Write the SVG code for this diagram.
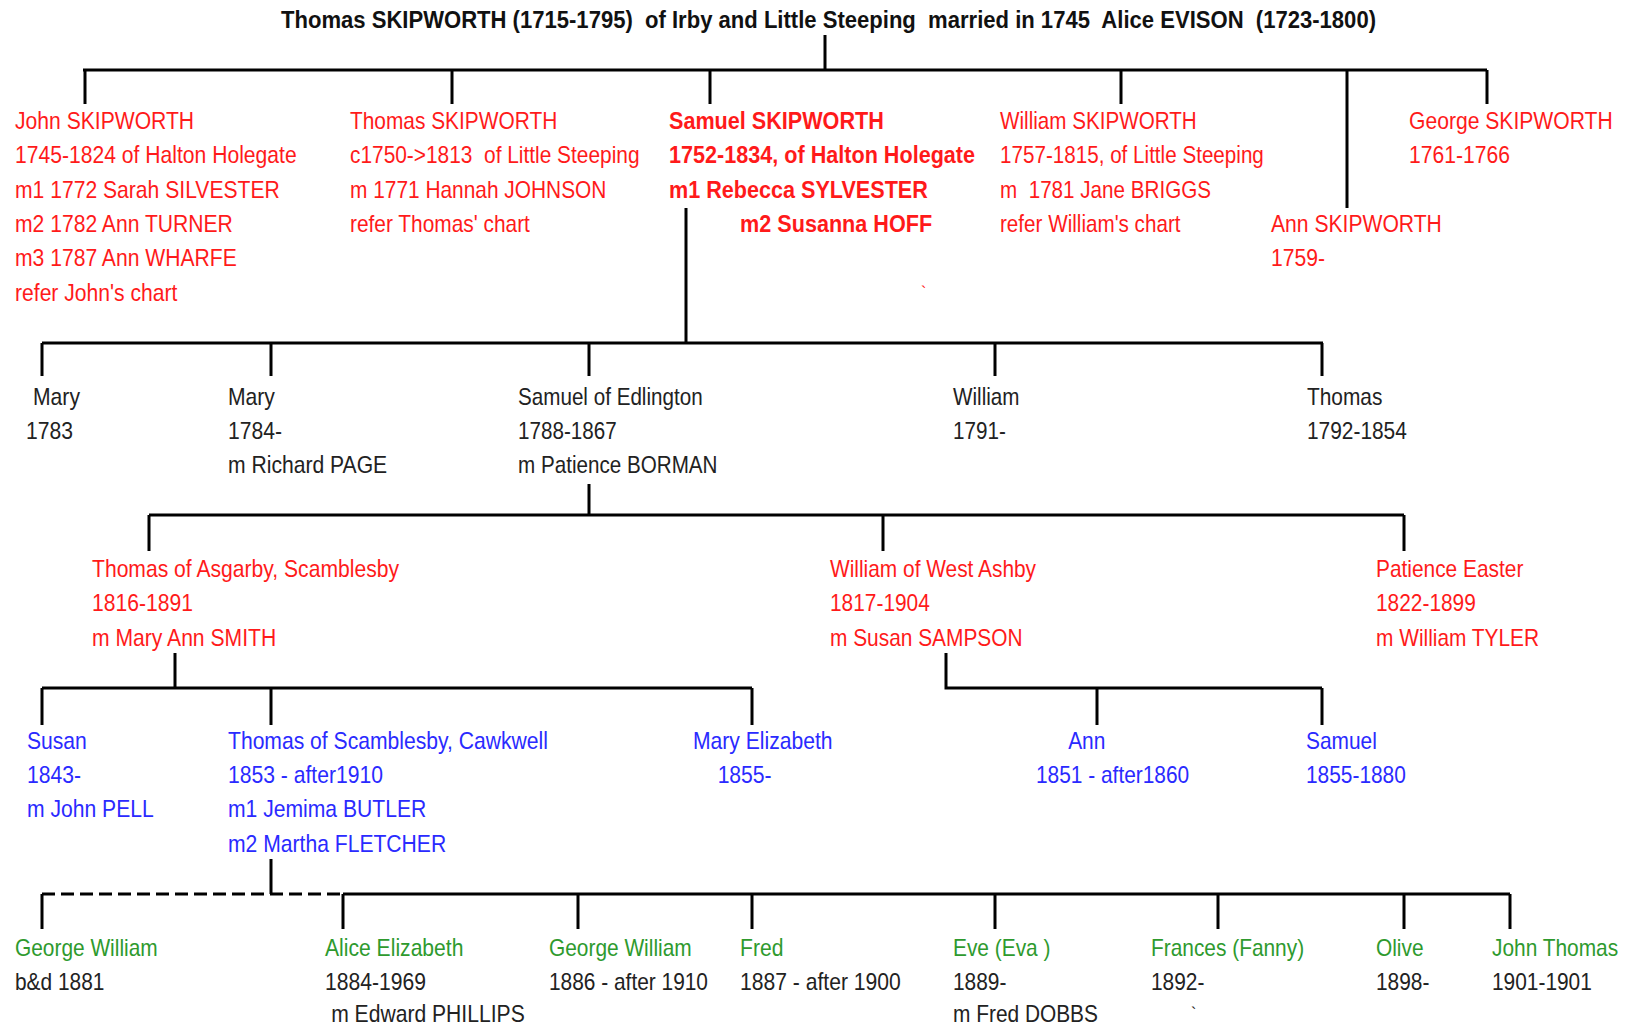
<svg xmlns="http://www.w3.org/2000/svg" width="1627" height="1026" viewBox="0 0 1627 1026">
<style>
text{font-family:"Liberation Sans",Arial,sans-serif;font-size:24px;white-space:pre}
.r{fill:#ff1a1a}.rb{fill:#ff1a1a;font-weight:bold}.k{fill:#222}.b{fill:#2a2aff}.g{fill:#2e9a2e}
.ln{stroke:#000;stroke-width:3;fill:none}
.ds{stroke:#000;stroke-width:3;fill:none;stroke-dasharray:13 6}
</style>
<rect width="1627" height="1026" fill="#fff"/>
<g id="title"><text xml:space="preserve" x="281" y="28" font-weight="bold" style="font-size:23px" fill="#111" textLength="1095" lengthAdjust="spacingAndGlyphs">Thomas SKIPWORTH (1715-1795)  of Irby and Little Steeping  married in 1745  Alice EVISON  (1723-1800)</text></g>
<g id="connectors">
<path class="ln" d="M825 35V70M83 70H1487M85 70V104M452 70V104M710 70V104M1121 70V104M1347 70V208M1487 70V104"/>
<path class="ln" d="M686 208V343M42 343H1323M42 343V376M271 343V376M589 343V376M995 343V376M1322 343V376"/>
<path class="ln" d="M589 484V515M149 515H1404M149 515V551M883 515V551M1404 515V551"/>
<path class="ln" d="M175 653V688M42 688H752M42 688V725M271 688V725M752 688V725"/>
<path class="ln" d="M946 653V688H1322M1097 688V725M1322 688V725"/>
<path class="ln" d="M271 859V894"/>
<path class="ds" d="M42 894H343"/>
<path class="ln" d="M42 894V929M343 894H1510M343 894V929M578 894V929M752 894V929M995 894V929M1218 894V929M1404 894V929M1510 894V929"/>
</g>
<g id="john" transform="translate(15 0) scale(.88 1)"><text class="r" y="129">John SKIPWORTH</text><text class="r" y="163">1745-1824 of Halton Holegate</text><text class="r" y="198">m1 1772 Sarah SILVESTER</text><text class="r" y="232">m2 1782 Ann TURNER</text><text class="r" y="266">m3 1787 Ann WHARFE</text><text class="r" y="301">refer John's chart</text></g>
<g id="thomas1" transform="translate(350 0) scale(.87 1)"><text class="r" y="129">Thomas SKIPWORTH</text><text xml:space="preserve" class="r" y="163">c1750-&gt;1813  of Little Steeping</text><text class="r" y="198">m 1771 Hannah JOHNSON</text><text class="r" y="232">refer Thomas' chart</text></g>
<g id="samuel1" transform="translate(669 0) scale(.9 1)"><text class="rb" y="129">Samuel SKIPWORTH</text><text class="rb" y="163">1752-1834, of Halton Holegate</text><text class="rb" y="198">m1 Rebecca SYLVESTER</text><text class="rb" x="79" y="232">m2 Susanna HOFF</text></g>
<text class="r" x="921" y="298" style="font-size:16px">`</text>
<g id="william1" transform="translate(1000 0) scale(.86 1)"><text class="r" y="129">William SKIPWORTH</text><text class="r" y="163">1757-1815, of Little Steeping</text><text xml:space="preserve" class="r" y="198">m  1781 Jane BRIGGS</text><text class="r" y="232">refer William's chart</text></g>
<g id="ann1" transform="translate(1271 0) scale(.88 1)"><text class="r" y="232">Ann SKIPWORTH</text><text class="r" y="266">1759-</text></g>
<g id="george1" transform="translate(1409 0) scale(.88 1)"><text class="r" y="129">George SKIPWORTH</text><text class="r" y="163">1761-1766</text></g>
<g id="mary1783" transform="translate(26 0) scale(.88 1)"><text class="k" x="8" y="405">Mary</text><text class="k" y="439">1783</text></g>
<g id="mary1784" transform="translate(228 0) scale(.88 1)"><text class="k" y="405">Mary</text><text class="k" y="439">1784-</text><text class="k" y="473">m Richard PAGE</text></g>
<g id="samuel2" transform="translate(518 0) scale(.86 1)"><text class="k" y="405">Samuel of Edlington</text><text class="k" y="439">1788-1867</text><text class="k" y="473">m Patience BORMAN</text></g>
<g id="william2" transform="translate(953 0) scale(.86 1)"><text class="k" y="405">William</text><text class="k" y="439">1791-</text></g>
<g id="thomas2" transform="translate(1307 0) scale(.87 1)"><text class="k" y="405">Thomas</text><text class="k" y="439">1792-1854</text></g>
<g id="thomas3" transform="translate(92 0) scale(.88 1)"><text class="r" y="577">Thomas of Asgarby, Scamblesby</text><text class="r" y="611">1816-1891</text><text class="r" y="646">m Mary Ann SMITH</text></g>
<g id="william3" transform="translate(830 0) scale(.87 1)"><text class="r" y="577">William of West Ashby</text><text class="r" y="611">1817-1904</text><text class="r" y="646">m Susan SAMPSON</text></g>
<g id="patience3" transform="translate(1376 0) scale(.87 1)"><text class="r" y="577">Patience Easter</text><text class="r" y="611">1822-1899</text><text class="r" y="646">m William TYLER</text></g>
<g id="susan4" transform="translate(27 0) scale(.88 1)"><text class="b" y="749">Susan</text><text class="b" y="783">1843-</text><text class="b" y="817">m John PELL</text></g>
<g id="thomas4" transform="translate(228 0) scale(.88 1)"><text class="b" y="749">Thomas of Scamblesby, Cawkwell</text><text class="b" y="783">1853 - after1910</text><text class="b" y="817">m1 Jemima BUTLER</text><text class="b" y="852">m2 Martha FLETCHER</text></g>
<g id="maryeliz4" transform="translate(693 0) scale(.88 1)"><text class="b" y="749">Mary Elizabeth</text><text class="b" x="28" y="783">1855-</text></g>
<g id="ann4" transform="translate(1036 0) scale(.87 1)"><text class="b" x="37" y="749">Ann</text><text class="b" y="783">1851 - after1860</text></g>
<g id="samuel4" transform="translate(1306 0) scale(.87 1)"><text class="b" y="749">Samuel</text><text class="b" y="783">1855-1880</text></g>
<g id="georgew1" transform="translate(15 0) scale(.87 1)"><text class="g" y="956">George William</text><text class="k" y="990">b&amp;d 1881</text></g>
<g id="alice5" transform="translate(325 0) scale(.88 1)"><text class="g" y="956">Alice Elizabeth</text><text class="k" y="990">1884-1969</text><text class="k" x="7" y="1022">m Edward PHILLIPS</text></g>
<g id="georgew2" transform="translate(549 0) scale(.87 1)"><text class="g" y="956">George William</text><text class="k" y="990">1886 - after 1910</text></g>
<g id="fred5" transform="translate(740 0) scale(.88 1)"><text class="g" y="956">Fred</text><text class="k" y="990">1887 - after 1900</text></g>
<g id="eve5" transform="translate(953 0) scale(.87 1)"><text class="g" y="956">Eve (Eva )</text><text class="k" y="990">1889-</text><text class="k" y="1022">m Fred DOBBS</text></g>
<g id="frances5" transform="translate(1151 0) scale(.87 1)"><text class="g" y="956">Frances (Fanny)</text><text class="k" y="990">1892-</text></g>
<text class="k" x="1191" y="1019" style="font-size:16px">`</text>
<g id="olive5" transform="translate(1376 0) scale(.87 1)"><text class="g" y="956">Olive</text><text class="k" y="990">1898-</text></g>
<g id="johnt5" transform="translate(1492 0) scale(.87 1)"><text class="g" y="956">John Thomas</text><text class="k" y="990">1901-1901</text></g>
</svg>
